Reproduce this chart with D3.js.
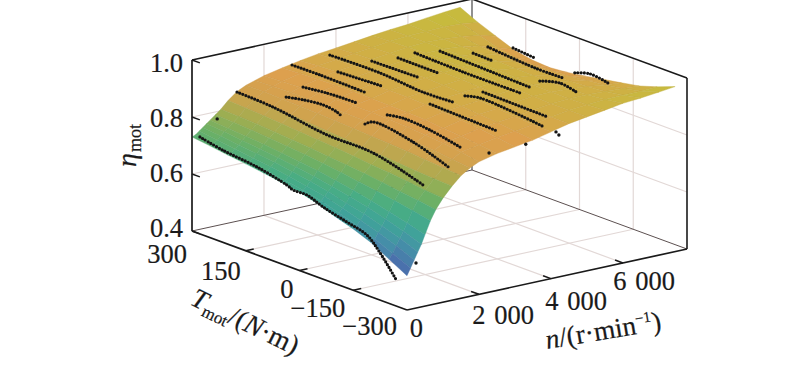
<!DOCTYPE html>
<html>
<head>
<meta charset="utf-8">
<script src="https://cdn.jsdelivr.net/npm/d3@7"></script>
<style>
body { margin: 0; background: #fff; }
text { font-family: "Liberation Serif", serif; fill: #1a1a1a; stroke: #1a1a1a; stroke-width: 0.2; }
</style>
</head>
<body>
<svg id="chart" width="800" height="368"></svg>
<script>
// =============================================== DATA =======================================================
const speedGrid = [0,100,200,300,400,500,650,800,1000,1250,1500,1750,2000,2500,3000,3500,4000,4500,5000,5500,6000,6500,7000,7450];
const torqueGrid = [300,250,200,150,100,50,0,-50,-100,-150,-200,-250,-300];
// one row per speedGrid value, one column per torqueGrid value
const etaGrid = [
[.73,.722,.713,.705,.696,.686,.675,.658,.635,.615,.59,.555,.52],
[.735,.727,.718,.71,.70,.69,.68,.665,.645,.625,.60,.572,.545],
[.745,.737,.728,.72,.712,.702,.69,.678,.66,.64,.62,.597,.57],
[.755,.748,.74,.733,.725,.715,.705,.692,.675,.66,.64,.62,.595],
[.765,.76,.753,.746,.738,.73,.72,.708,.695,.68,.662,.642,.62],
[.775,.77,.765,.76,.752,.745,.737,.726,.714,.70,.685,.668,.65],
[.79,.787,.783,.778,.772,.766,.758,.75,.74,.73,.72,.708,.695],
[.805,.803,.80,.795,.79,.785,.778,.772,.765,.757,.748,.74,.73],
[.83,.827,.823,.818,.813,.808,.803,.797,.79,.785,.778,.77,.765],
[.855,.852,.848,.843,.838,.833,.828,.822,.817,.812,.807,.803,.80],
[.87,.87,.868,.866,.863,.86,.857,.853,.85,.846,.84,.835,.83],
[.88,.882,.884,.884,.883,.882,.88,.877,.874,.87,.865,.858,.85],
[.89,.893,.896,.898,.899,.90,.90,.898,.895,.89,.884,.875,.865],
[.903,.907,.91,.912,.913,.912,.91,.909,.906,.90,.895,.888,.88],
[.915,.92,.923,.925,.926,.926,.925,.923,.92,.915,.908,.90,.89],
[.925,.928,.931,.933,.934,.934,.933,.93,.926,.921,.915,.908,.90],
[.932,.936,.939,.941,.942,.942,.94,.937,.933,.928,.923,.918,.915],
[.94,.943,.946,.948,.949,.948,.946,.943,.94,.936,.932,.93,.93],
[.948,.951,.953,.955,.955,.954,.952,.949,.946,.943,.94,.94,.94],
[.955,.956,.957,.957,.956,.954,.952,.949,.946,.944,.944,.946,.95],
[.96,.958,.955,.952,.949,.946,.944,.942,.941,.941,.944,.95,.96],
[.968,.96,.95,.94,.933,.93,.93,.93,.932,.936,.942,.952,.965],
[.975,.958,.94,.92,.908,.905,.908,.912,.92,.928,.938,.952,.972],
[.98,.95,.925,.90,.888,.884,.89,.90,.912,.923,.935,.955,.979]
];

// measured points, one constant speed sweep per entry
const sweepSpeed = [100,1250,1670,1670,2780,2030,2030,3830,3050,3050,4060,4060,4530,4530,4890,5300,5920,5920,6390,6780,7300];
const sweepTorque = [
[288,224,128,45,28,-11,-56,-122,-178,-215,-262],
[300,200,49,-80,-219],
[205,158,102,63,49],
[-15,-38,-149,-247],
[300,222,91],
[194,127,44],
[-41,-85,-160,-244],
[300,160,40,-44],
[199,76],
[-58,-245],
[206,72],
[-54,-96,-269],
[180,68],
[-57,-238],
[169,35,-124],
[140,-116],
[110,55],
[-76,-132,-182],
[116,-16,-94],
[85,24],
[-35,-77,-128]
];
const sweepEta = [
[.733,.716,.701,.676,.667,.667,.646,.624,.604,.558,.481],
[.853,.847,.819,.815,.767],
[.868,.88,.888,.881,.871],
[.875,.893,.874,.832],
[.906,.907,.904],
[.898,.908,.912],
[.909,.918,.911,.89],
[.912,.914,.902,.906],
[.921,.928],
[.927,.919],
[.928,.931],
[.926,.938,.92],
[.938,.937],
[.928,.924],
[.951,.946,.946],
[.959,.948],
[.949,.947],
[.937,.956,.944],
[.955,.942,.943],
[.955,.948],
[.909,.925,.916]
];

// stray measured points
const straySpeed = [700,250,2280,3300,4140,4220];
const strayTorque = [300,-300,-300,-300,-300,-300];
const strayEta = [.774,.558,.888,.891,.911,.898];

const etaTicks = [0.4,0.6,0.8,1.0];
const etaLabels = ["0.4","0.6","0.8","1.0"];
const torqueTicks = [300,150,0,-150,-300];
const torqueLabels = ["300","150","0","\u2212150","\u2212300"];
const speedTicks = [0,2000,4000,6000];
const speedLabels = ["0","2 000","4 000","6 000"];

// ========================================== PROJECTION =====================================================
const speedMax = 7780;
const nX = d3.scaleLinear().domain([0,speedMax]).range([0,280]);
const nY = d3.scaleLinear().domain([0,speedMax]).range([0,-61]);
const tX = d3.scaleLinear().domain([300,-300]).range([0,215]);
const tY = d3.scaleLinear().domain([300,-300]).range([0,79]);
const zY = d3.scaleLinear().domain([0.4,1.0]).range([231,60]);

function project(n, T, eta) {
    return [192 + nX(n) + tX(T), zY(eta) + nY(n) + tY(T)];
}

const color = d3.scaleLinear()
    .domain([.5,.55,.6,.65,.7,.75,.8,.85,.9,.92,.95,.98])
    .range(["#4a56a0","#4a72ac","#4590a8","#3fa498","#48ad84","#6cb066","#a0ae50","#cfa34e","#dda04e","#d6a84a","#cdb243","#c2c23a"]);

const svg = d3.select("#chart");
const line = d3.line();

function seg(g, a, b, stroke, width) {
    g.append("path").attr("d", line([a,b])).attr("fill","none").attr("stroke",stroke).attr("stroke-width",width);
}

// ============================================ GRID AND BACK PANES ===========================================
const gridColor = "#e2d8d6";
const grid = svg.append("g");
[2000,4000,6000].forEach(function(n) {
    seg(grid, project(n,300,0.4), project(n,300,1.0), gridColor, 1.2);
    seg(grid, project(n,300,0.4), project(n,-300,0.4), gridColor, 1.2);
});
[150,0,-150].forEach(function(T) {
    seg(grid, project(speedMax,T,0.4), project(speedMax,T,1.0), gridColor, 1.2);
    seg(grid, project(0,T,0.4), project(speedMax,T,0.4), gridColor, 1.2);
});
[0.6,0.8].forEach(function(e) {
    seg(grid, project(0,300,e), project(speedMax,300,e), gridColor, 1.2);
    seg(grid, project(speedMax,300,e), project(speedMax,-300,e), gridColor, 1.2);
});
seg(grid, project(0,300,0.4), project(speedMax,300,0.4), "#5c5050", 1);
seg(grid, project(speedMax,300,0.4), project(speedMax,-300,0.4), "#5c5050", 1);
seg(grid, project(speedMax,300,0.4), project(speedMax,300,1.0), "#555", 1.3);
seg(grid, project(0,300,1.0), project(speedMax,300,1.0), "#1a1a1a", 1.6);
seg(grid, project(speedMax,300,1.0), project(speedMax,-300,1.0), "#1a1a1a", 1.6);
seg(grid, project(speedMax,-300,0.4), project(speedMax,-300,1.0), "#1a1a1a", 1.6);

// ================================================ SURFACE ===================================================
const surface = svg.append("g");
for (let i = speedGrid.length - 2; i >= 0; i--) {
    for (let j = 0; j < torqueGrid.length - 1; j++) {
        const mean = d3.mean([etaGrid[i][j],etaGrid[i+1][j],etaGrid[i][j+1],etaGrid[i+1][j+1]]);
        const fill = color(mean);
        surface.append("path")
            .attr("d", line([
                project(speedGrid[i],torqueGrid[j],etaGrid[i][j]),
                project(speedGrid[i+1],torqueGrid[j],etaGrid[i+1][j]),
                project(speedGrid[i+1],torqueGrid[j+1],etaGrid[i+1][j+1]),
                project(speedGrid[i],torqueGrid[j+1],etaGrid[i][j+1])
            ]) + "Z")
            .attr("fill", fill)
            .attr("stroke", d3.color(fill).darker(0.15))
            .attr("stroke-width", 0.4);
    }
}

// ================================================= DOTS =====================================================
const dots = svg.append("g");
const sweepLine = d3.line().curve(d3.curveCatmullRom);
sweepSpeed.forEach(function(n, k) {
    const pts = sweepTorque[k].map(function(T, m) { return project(n, T, sweepEta[k][m]); });
    dots.append("path")
        .attr("d", sweepLine(pts))
        .attr("fill","none")
        .attr("stroke","#141414")
        .attr("stroke-width",3.2)
        .attr("stroke-linecap","round")
        .attr("stroke-dasharray","0 3.2");
});
dots.selectAll("circle")
    .data(straySpeed)
    .enter()
    .append("circle")
    .attr("cx", function(d,i) { return project(d,strayTorque[i],strayEta[i])[0]; })
    .attr("cy", function(d,i) { return project(d,strayTorque[i],strayEta[i])[1]; })
    .attr("r", 1.7)
    .attr("fill","#141414");

// ================================================= AXES =====================================================
const axes = svg.append("g");
seg(axes, project(0,300,0.4), project(0,300,1.0), "#1a1a1a", 1.7);
seg(axes, project(0,300,0.4), project(0,-300,0.4), "#1a1a1a", 1.7);
seg(axes, project(0,-300,0.4), project(speedMax,-300,0.4), "#1a1a1a", 1.7);

const fontSize = 26.5;
etaTicks.forEach(function(e,i) {
    seg(axes, project(0,300,e), project(0,278,e), "#1a1a1a", 1.5);
    const p = project(0,300,e);
    axes.append("text").attr("x",p[0]-9).attr("y",p[1]+[6,8,10,12][i]).attr("text-anchor","end")
        .attr("font-size",fontSize).text(etaLabels[i]);
});
const torqueLabelDx = [-5,-5,-6,-8,-10];
const torqueLabelDy = [32,29,27,27,25];
torqueTicks.forEach(function(T,i) {
    if (i > 0 && i < 4) seg(axes, project(0,T,0.4), project(222,T,0.4), "#1a1a1a", 1.5);
    const p = project(0,T,0.4);
    axes.append("text").attr("x",p[0]+torqueLabelDx[i]).attr("y",p[1]+torqueLabelDy[i]).attr("text-anchor","end")
        .attr("font-size",fontSize).text(torqueLabels[i]);
});
const speedLabelDx = [16,55,56,52];
const speedLabelDy = [27,30,31,27];
speedTicks.forEach(function(n,i) {
    if (i > 0) seg(axes, project(n,-300,0.4), project(n,-278,0.4), "#1a1a1a", 1.5);
    const p = project(n,-300,0.4);
    axes.append("text").attr("x",p[0]+speedLabelDx[i]).attr("y",p[1]+speedLabelDy[i]).attr("text-anchor","end")
        .attr("font-size",fontSize).attr("word-spacing",2).text(speedLabels[i]);
});

// ================================================ TITLES ====================================================
const etaTitle = svg.append("text").attr("transform","translate(136,167) rotate(-90)").attr("font-size",28);
etaTitle.append("tspan").attr("font-style","italic").text("\u03B7");
etaTitle.append("tspan").attr("font-size",18).attr("dy",5).attr("dx",1).text("mot");

const torqueTitle = svg.append("text").attr("transform","translate(189,304) rotate(26)").attr("font-size",27.5);
torqueTitle.append("tspan").attr("font-style","italic").text("T");
torqueTitle.append("tspan").attr("font-size",17).attr("dy",5).text("mot");
torqueTitle.append("tspan").attr("dy",-5).text("/(");
torqueTitle.append("tspan").attr("font-style","italic").text("N");
torqueTitle.append("tspan").text("\u00B7m)");

const speedTitle = svg.append("text").attr("transform","translate(547,349) rotate(-9.5)").attr("font-size",27.5);
speedTitle.append("tspan").attr("font-style","italic").text("n");
speedTitle.append("tspan").text("/(r\u00B7min");
speedTitle.append("tspan").attr("font-size",15).attr("dy",-10).text("\u22121");
speedTitle.append("tspan").attr("dy",10).text(")");
</script>
</body>
</html>
